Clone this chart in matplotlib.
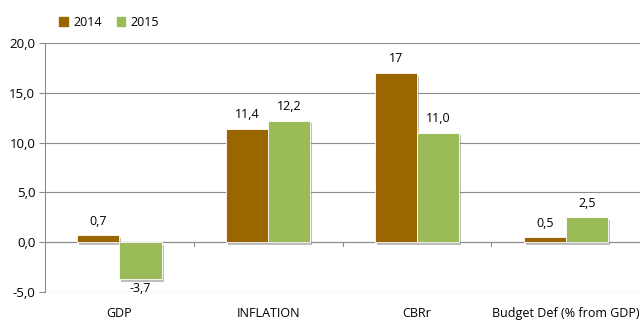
import matplotlib

matplotlib.use("Agg")
import matplotlib.pyplot as plt
import matplotlib.patheffects as pe
from matplotlib.patches import Patch
from matplotlib.ticker import FuncFormatter
import numpy as np

categories = ["GDP", "INFLATION", "CBRr", "Budget Def (% from GDP)"]
values_2014 = [0.7, 11.4, 17.0, 0.5]
values_2015 = [-3.7, 12.2, 11.0, 2.5]
labels_2014 = ["0,7", "11,4", "17", "0,5"]
labels_2015 = ["-3,7", "12,2", "11,0", "2,5"]

color_2014 = "#996600"
color_2015 = "#9BBB59"

plt.rcParams["font.family"] = ["Open Sans", "DejaVu Sans"]

fig = plt.figure(figsize=(6.4, 3.2), dpi=100)
ax = fig.add_axes([0.0703, 0.0875, 0.93, 0.7785])

x = np.arange(len(categories))
width = 0.283
shadow = [pe.SimplePatchShadow(offset=(1.5, -2), shadow_rgbFace="#808080", alpha=0.5), pe.Normal()]

bars14 = ax.bar(x - width / 2, values_2014, width, color=color_2014,
                edgecolor="white", linewidth=0.6, zorder=3)
bars15 = ax.bar(x + width / 2, values_2015, width, color=color_2015,
                edgecolor="white", linewidth=0.6, zorder=3)
for b in list(bars14) + list(bars15):
    b.set_path_effects(shadow)

# value labels above positive bars, below negative ones
for bars, vals, texts in [(bars14, values_2014, labels_2014), (bars15, values_2015, labels_2015)]:
    for b, v, t in zip(bars, vals, texts):
        dy = 10 if v >= 0 else -7
        ax.annotate(t, (b.get_x() + b.get_width() / 2, v), xytext=(0, dy),
                    textcoords="offset points", ha="center", va="center", fontsize=9)

ax.set_xlim(-0.5, len(categories) - 0.5)
ax.set_ylim(-5, 20)
ax.set_yticks(np.arange(-5, 20.1, 5))
ax.yaxis.set_major_formatter(FuncFormatter(lambda v, p: f"{v:.1f}".replace(".", ",")))
ax.yaxis.grid(True, color="#8c8c8c", linewidth=0.8, zorder=0)
ax.set_axisbelow(True)

# zero line with small category separators
ax.axhline(0, color="#8c8c8c", linewidth=0.8, zorder=1)
for sep in x[1:] - 0.5:
    ax.plot([sep, sep], [0, -0.4], color="#8c8c8c", linewidth=0.8, zorder=1)

for side in ["top", "right", "bottom"]:
    ax.spines[side].set_visible(False)
ax.spines["left"].set_color("#8c8c8c")
ax.spines["left"].set_linewidth(0.8)

ax.set_xticks(x)
ax.set_xticklabels(categories, fontsize=9)
ax.tick_params(axis="x", length=0, pad=11)
ax.tick_params(axis="y", labelsize=9.5, length=4, color="#8c8c8c", pad=3)

handles = [Patch(color=color_2014, label="2014"), Patch(color=color_2015, label="2015")]
fig.legend(handles=handles, loc="upper left", bbox_to_anchor=(0.075, 0.985), ncol=2,
           frameon=False, fontsize=9, handlelength=0.7, handleheight=0.7,
           handletextpad=0.4, columnspacing=1.2)

plt.savefig("out.png", dpi=100)
plt.close()
